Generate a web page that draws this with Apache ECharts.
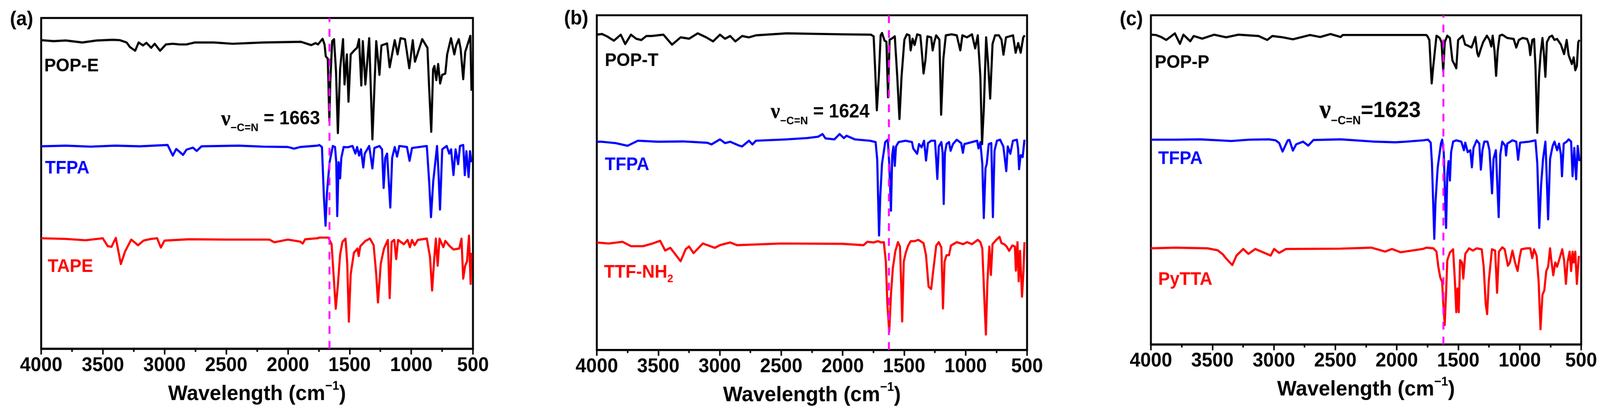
<!DOCTYPE html>
<html>
<head>
<meta charset="utf-8">
<title>FT-IR spectra</title>
<script src="https://cdn.jsdelivr.net/npm/echarts@6/dist/echarts.min.js"></script>
<style>
  html, body { margin: 0; padding: 0; background: #fff; overflow: hidden; }
  #chart { width: 4199px; height: 1057px; transform-origin: 0 0; }
</style>
</head>
<body>
<div id="chart"></div>
<script>
// spectra: [wavenumber (cm-1), offset transmittance (0 = frame bottom, 100 = frame top)]
var popE = [[4000,93.3],[3900,93.0],[3800,93.2],[3667,92.6],[3550,93.2],[3420,93.4],[3363,93.3],[3307,92.6],[3280,91.2],[3238,90.1],[3210,92.6],[3174,91.7],[3147,92.5],[3108,91.0],[3080,92.2],[3036,90.1],[2989,92.0],[2933,92.2],[2878,92.0],[2822,92.0],[2753,92.6],[2600,92.6],[2448,92.2],[2200,92.6],[1894,92.8],[1811,91.8],[1776,92.4],[1756,92.0],[1719,93.7],[1703,92.0],[1693,88.4],[1677,87.7],[1672,81.2],[1664,68.8],[1656,81.2],[1641,93.0],[1626,93.6],[1610,83.8],[1595,65.2],[1577,84.5],[1553,93.6],[1541,79.9],[1522,89.0],[1509,74.7],[1491,89.0],[1460,90.3],[1439,91.0],[1423,93.6],[1405,79.6],[1393,93.0],[1372,79.9],[1341,93.9],[1315,63.3],[1284,93.0],[1258,82.8],[1242,91.7],[1196,92.3],[1175,85.1],[1134,93.3],[1111,89.0],[1087,93.9],[1051,93.6],[1016,84.8],[988,93.3],[970,86.8],[911,93.6],[869,91.0],[854,78.0],[838,65.6],[823,84.5],[812,85.5],[797,81.2],[782,86.1],[766,80.2],[750,82.8],[724,83.2],[709,89.0],[678,93.9],[651,89.0],[636,91.7],[615,93.6],[600,90.7],[579,81.5],[563,89.7],[521,94.6],[512,78.0]];
var tfpaA = [[4000,61.2],[3800,61.4],[3600,61.1],[3400,61.4],[3200,61.2],[2975,61.6],[2933,58.4],[2905,60.4],[2880,59.6],[2850,58.6],[2822,60.2],[2770,60.8],[2739,59.8],[2700,61.2],[2400,61.4],[2200,61.1],[2000,61.0],[1950,60.5],[1900,61.0],[1760,61.4],[1745,61.6],[1724,61.0],[1709,46.6],[1695,37.2],[1683,47.3],[1662,56.4],[1636,61.3],[1618,61.0],[1608,56.4],[1600,40.1],[1589,56.4],[1577,51.5],[1567,57.7],[1548,61.0],[1517,60.9],[1476,61.3],[1453,59.0],[1439,61.0],[1423,58.4],[1408,60.3],[1389,54.8],[1377,59.0],[1341,61.3],[1315,54.5],[1299,60.7],[1258,61.3],[1237,60.3],[1224,48.6],[1211,57.7],[1196,59.0],[1170,42.7],[1155,57.7],[1134,61.0],[1115,58.1],[1097,61.3],[1035,61.0],[1014,56.8],[994,60.7],[874,61.3],[855,50.6],[840,39.8],[822,50.6],[791,61.3],[780,53.8],[767,42.1],[749,60.3],[713,61.3],[692,59.0],[677,60.3],[658,52.5],[641,60.3],[620,55.8],[605,61.3],[579,61.6],[566,52.5],[553,59.7],[535,51.9],[524,59.7],[512,56.4]];
var tape = [[4000,33.4],[3800,33.2],[3640,32.8],[3501,33.4],[3460,31.0],[3430,30.8],[3395,33.5],[3354,25.6],[3320,29.4],[3270,33.0],[3215,31.3],[3170,32.7],[3110,33.2],[3060,33.4],[3030,30.6],[3000,32.7],[2800,33.1],[2500,33.0],[2150,33.0],[2110,32.2],[2000,33.0],[1900,32.4],[1880,31.8],[1860,33.1],[1760,33.4],[1745,33.6],[1672,33.6],[1646,31.6],[1630,22.5],[1612,12.1],[1595,19.2],[1577,28.4],[1558,32.3],[1533,33.3],[1519,25.8],[1506,8.2],[1491,22.5],[1465,29.0],[1436,30.3],[1426,28.0],[1413,31.0],[1372,32.6],[1335,33.3],[1305,31.3],[1284,22.5],[1270,14.0],[1247,25.8],[1221,30.3],[1190,32.9],[1175,15.3],[1159,32.3],[1138,32.9],[1122,27.1],[1107,32.9],[1060,31.6],[1030,32.9],[1011,30.7],[994,32.9],[973,31.3],[947,32.9],[874,33.3],[848,27.7],[831,17.6],[814,27.1],[801,33.3],[786,25.1],[771,33.3],[740,30.7],[724,32.6],[688,31.0],[657,30.0],[611,30.3],[593,33.3],[579,21.2],[563,25.1],[548,26.4],[532,34.2],[519,19.6],[512,29.0]];

var popT = [[4000,94.2],[3958,94.4],[3917,93.7],[3861,92.4],[3805,94.2],[3769,91.4],[3722,94.2],[3680,93.0],[3638,92.6],[3597,93.8],[3555,93.8],[3458,94.2],[3388,91.2],[3318,93.4],[3249,93.0],[3179,94.6],[3110,93.4],[3054,92.2],[2998,94.2],[2957,93.0],[2915,93.8],[2873,92.2],[2818,93.8],[2762,93.4],[2706,94.0],[2456,94.6],[2000,94.3],[1770,94.2],[1748,93.7],[1737,84.9],[1722,71.6],[1706,81.7],[1691,94.0],[1680,94.7],[1659,92.4],[1644,92.1],[1631,75.5],[1618,92.7],[1602,93.0],[1576,93.7],[1556,81.7],[1538,69.0],[1521,81.7],[1498,92.7],[1478,94.3],[1457,94.0],[1447,89.5],[1431,93.0],[1415,91.1],[1394,94.3],[1368,94.0],[1354,88.2],[1342,82.6],[1327,86.5],[1311,93.7],[1280,93.4],[1268,89.5],[1254,92.1],[1239,94.0],[1213,92.7],[1199,70.3],[1181,86.9],[1161,94.0],[1114,94.3],[1072,94.0],[1043,89.5],[1026,94.0],[989,93.4],[948,94.3],[922,90.1],[901,94.0],[880,81.7],[866,61.5],[852,71.9],[833,93.4],[817,85.6],[800,75.1],[781,91.4],[760,94.0],[729,94.0],[708,92.7],[692,88.2],[671,93.4],[614,94.0],[593,88.8],[572,91.7],[552,88.8],[531,93.4],[519,94.0]];
var tfpaB = [[4000,62.2],[3958,62.2],[3847,61.8],[3750,61.0],[3666,62.5],[3500,62.2],[3300,62.3],[3100,61.9],[3068,61.4],[2998,62.9],[2957,61.8],[2915,62.2],[2845,61.1],[2818,60.8],[2762,62.5],[2734,61.4],[2706,62.5],[2456,62.9],[2289,63.3],[2200,63.7],[2164,64.5],[2140,63.2],[2067,62.9],[2025,64.5],[1990,63.3],[1969,64.0],[1900,62.9],[1779,62.5],[1732,62.1],[1719,56.9],[1712,45.9],[1704,34.2],[1694,45.9],[1680,55.6],[1654,62.1],[1633,62.8],[1621,55.6],[1607,41.6],[1597,58.2],[1587,60.8],[1576,55.0],[1566,60.8],[1545,62.1],[1488,62.5],[1436,62.1],[1426,60.2],[1394,58.6],[1379,61.5],[1358,60.5],[1338,62.5],[1322,56.6],[1306,61.8],[1280,62.5],[1249,62.5],[1239,56.9],[1230,51.1],[1218,60.8],[1197,62.1],[1187,58.9],[1178,43.6],[1168,58.9],[1155,61.5],[1135,62.1],[1122,59.5],[1103,61.5],[1072,62.8],[1036,61.8],[1022,58.9],[1010,61.5],[906,62.5],[895,60.2],[880,62.1],[864,55.6],[852,39.4],[838,54.3],[828,55.6],[812,61.5],[791,61.8],[778,39.7],[765,59.5],[745,62.5],[719,62.8],[693,60.8],[669,53.4],[657,60.8],[636,58.6],[615,62.5],[583,62.8],[573,60.2],[565,54.0],[552,58.2],[536,57.6],[521,62.8]];
var ttfNH2 = [[4000,32.1],[3903,31.8],[3791,32.3],[3722,31.0],[3624,31.0],[3555,31.7],[3485,32.6],[3444,29.7],[3402,30.5],[3318,26.5],[3277,30.1],[3249,30.9],[3213,28.9],[3138,31.8],[3040,30.5],[2998,31.3],[2915,32.1],[2859,31.3],[2500,31.8],[2000,31.7],[1830,31.3],[1800,32.3],[1748,32.1],[1712,32.5],[1686,32.1],[1665,32.2],[1649,26.4],[1636,13.3],[1621,5.5],[1607,16.6],[1592,24.4],[1571,29.6],[1550,32.2],[1534,30.9],[1524,19.8],[1516,8.5],[1503,26.4],[1487,29.0],[1467,31.2],[1446,32.5],[1415,32.5],[1384,32.9],[1342,31.9],[1322,28.3],[1301,18.9],[1280,18.2],[1265,23.1],[1239,31.2],[1218,32.2],[1197,30.6],[1184,12.4],[1171,26.4],[1155,28.3],[1135,28.3],[1119,31.2],[1072,32.2],[1020,31.6],[989,32.2],[948,31.6],[901,32.9],[880,32.2],[864,30.3],[849,16.6],[835,4.6],[823,19.8],[807,30.9],[794,22.4],[781,31.6],[750,32.9],[724,33.8],[708,31.9],[687,31.6],[666,30.9],[646,29.6],[620,31.2],[599,30.9],[591,23.7],[578,32.2],[568,20.5],[557,29.6],[541,15.9],[529,23.7],[521,32.2]];

var popP = [[4000,94.1],[3958,94.0],[3917,93.4],[3875,92.5],[3805,94.5],[3764,91.3],[3736,94.1],[3680,92.1],[3652,93.7],[3583,92.9],[3485,94.1],[3388,93.3],[3290,94.1],[3124,93.7],[3054,92.5],[3012,93.7],[2929,93.3],[2845,92.7],[2706,94.0],[2623,93.4],[2539,94.3],[2456,93.4],[2440,94.0],[1760,94.0],[1750,93.6],[1735,92.5],[1724,84.6],[1716,79.3],[1703,84.6],[1677,93.8],[1651,93.1],[1636,91.8],[1622,83.0],[1610,91.8],[1589,93.8],[1568,93.1],[1547,86.2],[1532,85.2],[1516,83.9],[1501,92.5],[1464,93.8],[1444,91.1],[1423,90.8],[1392,90.2],[1376,91.8],[1361,93.4],[1345,88.5],[1335,87.5],[1319,89.5],[1298,91.8],[1267,93.8],[1246,92.5],[1231,90.5],[1220,93.8],[1205,89.2],[1192,81.6],[1179,89.2],[1163,93.8],[1142,94.1],[1101,93.1],[1049,92.8],[1028,90.2],[1007,92.5],[976,93.1],[940,92.8],[924,91.1],[914,87.9],[898,92.5],[883,92.8],[872,84.6],[857,64.3],[843,81.3],[831,87.9],[815,93.1],[805,89.2],[791,81.3],[779,91.8],[758,93.4],[737,93.8],[717,92.5],[696,92.8],[665,91.1],[639,88.2],[618,92.5],[602,87.9],[576,85.2],[561,87.2],[548,83.3],[535,84.6],[524,91.8],[514,92.5]];
var tfpaC = [[4000,62.2],[3800,62.2],[3600,62.3],[3346,61.8],[3200,62.2],[3040,62.3],[2985,62.0],[2957,61.2],[2929,58.6],[2887,62.0],[2873,62.1],[2845,58.9],[2818,60.8],[2762,61.6],[2720,60.4],[2678,62.1],[2456,62.3],[2178,61.6],[2011,61.4],[1927,61.6],[1788,62.0],[1745,62.2],[1724,61.3],[1714,55.1],[1703,42.0],[1695,32.1],[1685,43.3],[1667,53.8],[1641,61.0],[1631,62.2],[1618,58.4],[1610,48.5],[1599,35.4],[1589,51.8],[1579,55.7],[1568,49.8],[1558,58.4],[1542,61.6],[1516,62.0],[1475,61.6],[1454,59.0],[1443,61.3],[1423,58.4],[1402,59.0],[1389,53.8],[1376,59.7],[1350,62.0],[1329,61.0],[1316,53.1],[1303,59.0],[1288,61.6],[1262,61.6],[1246,59.0],[1225,45.9],[1213,56.4],[1194,59.0],[1171,38.7],[1158,57.7],[1142,61.6],[1117,60.3],[1111,57.4],[1101,61.0],[1059,62.0],[1028,61.6],[1013,56.1],[997,61.3],[924,61.6],[872,62.0],[857,55.1],[841,35.4],[826,48.5],[810,56.4],[791,61.6],[781,51.8],[769,38.0],[753,56.4],[732,60.3],[717,61.6],[696,59.0],[680,61.0],[665,57.7],[656,51.1],[642,61.0],[618,61.6],[602,62.3],[582,61.6],[570,51.1],[556,59.7],[541,50.2],[528,60.3],[514,55.7]];
var pyTTA = [[4000,29.2],[3800,29.4],[3541,29.2],[3457,28.6],[3416,27.4],[3388,26.1],[3338,24.1],[3304,27.0],[3249,29.0],[3207,27.5],[3151,29.0],[3026,27.0],[2998,29.0],[2957,27.8],[2901,29.0],[2456,29.1],[2206,29.4],[2094,28.2],[2039,29.0],[1970,28.0],[1788,29.0],[1760,29.4],[1703,29.2],[1677,28.2],[1662,23.6],[1646,20.3],[1631,19.0],[1621,11.8],[1610,5.9],[1599,15.7],[1589,25.6],[1568,27.9],[1542,28.9],[1527,19.0],[1516,9.8],[1506,17.0],[1496,9.8],[1485,25.6],[1469,24.9],[1459,20.0],[1443,27.5],[1412,29.2],[1381,28.5],[1350,29.2],[1309,28.9],[1293,23.6],[1277,12.5],[1265,9.2],[1252,19.0],[1226,28.9],[1200,28.5],[1184,15.7],[1169,28.2],[1142,29.5],[1122,28.9],[1096,23.9],[1080,24.9],[1059,28.5],[1038,24.9],[1017,22.3],[1002,26.2],[987,28.9],[945,29.2],[914,29.2],[898,26.2],[883,28.9],[862,26.9],[846,19.0],[831,4.6],[815,15.1],[800,16.4],[784,22.3],[769,23.6],[753,29.2],[743,25.6],[727,21.0],[711,24.9],[696,23.6],[675,26.2],[654,28.9],[639,25.6],[624,18.4],[611,24.9],[594,28.2],[582,22.3],[570,28.2],[561,24.9],[548,28.2],[535,18.4],[519,26.9]];

// imine band marked in each panel (cm-1)
var cnPeaks = [1663, 1624, 1623];
var sampleNames = [['POP-E', 'TFPA', 'TAPE'], ['POP-T', 'TFPA', 'TTF-NH2'], ['POP-P', 'TFPA', 'PyTTA']];

var FONT = '"Liberation Sans", Arial, sans-serif';
var SERIF = '"Liberation Serif", "DejaVu Serif", serif';
var COLORS = ['#000000', '#0000ff', '#ff0000'];
var MAGENTA = '#ff00ff';

var panels = [
  { box: { left: 108, top: 46, width: 1133, height: 846 }, data: [popE, tfpaA, tape] },
  { box: { left: 1566, top: 39, width: 1129, height: 856 }, data: [popT, tfpaB, ttfNH2] },
  { box: { left: 3020, top: 39, width: 1129, height: 842 }, data: [popP, tfpaC, pyTTA] }
];

var grid = [], xAxis = [], yAxis = [], series = [];

panels.forEach(function (p, i) {
  grid.push({
    left: p.box.left, top: p.box.top, width: p.box.width, height: p.box.height,
    show: true, borderColor: '#000', borderWidth: 5, backgroundColor: 'transparent'
  });
  xAxis.push({
    gridIndex: i, type: 'value', min: 500, max: 4000, interval: 500, inverse: true,
    axisLine: { show: true, onZero: false, lineStyle: { color: '#000', width: 5 } },
    axisTick: { show: true, inside: false, length: 15, lineStyle: { color: '#000', width: 4 } },
    minorTick: { show: true, splitNumber: 2, length: 8, lineStyle: { color: '#000', width: 4 } },
    splitLine: { show: false },
    axisLabel: {
      show: true, margin: 18, showMinLabel: true, showMaxLabel: true,
      color: '#000', fontSize: 50, fontWeight: 'bold', fontFamily: FONT,
      formatter: function (v) { return String(v); }
    },
    name: '{t|Wavelength (cm}{s|\u22121}{t|)}',
    nameLocation: 'middle', nameGap: 86,
    nameTextStyle: {
      rich: {
        t: { fontSize: 54, fontWeight: 'bold', fontFamily: FONT, color: '#000', lineHeight: 60 },
        s: { fontSize: 32, fontWeight: 'bold', fontFamily: FONT, color: '#000', lineHeight: 34, padding: [0, 0, 40, 0] }
      }
    }
  });
  yAxis.push({ gridIndex: i, type: 'value', min: 0, max: 100, show: false });

  p.data.forEach(function (d, k) {
    var s = {
      type: 'line', name: sampleNames[i][k], xAxisIndex: i, yAxisIndex: i, data: d,
      symbol: 'none', showSymbol: false, silent: true, z: 2 + k,
      lineStyle: { color: COLORS[k], width: 5.5, join: 'round' }, itemStyle: { color: COLORS[k] }
    };
    if (k === 2) {
      s.markLine = {
        silent: true, symbol: ['none', 'none'], label: { show: false }, animation: false,
        lineStyle: { color: MAGENTA, width: 5, type: [20, 18] },
        data: [{ xAxis: cnPeaks[i] }]
      };
    }
    series.push(s);
  });
});

// text in the plot: panel letters, sample names, imine band notes
var nameStyle = function (color) {
  return { fontSize: 46, fontWeight: 'bold', fontFamily: FONT, fill: color };
};
var txt = function (x, y, text, rich, base) {
  var st = { text: text, align: 'left', verticalAlign: 'middle' };
  if (rich) st.rich = rich;
  for (var key in base) st[key] = base[key];
  return { type: 'text', x: x, y: y, silent: true, z: 100, style: st };
};
var noteRich = function (nuSize, subSize, eqSize, subDrop) {
  return {
    nu: { fontSize: nuSize, fontWeight: 'bold', fontFamily: SERIF, fill: '#000', lineHeight: nuSize + 6 },
    sub: { fontSize: subSize, fontWeight: 'bold', fontFamily: FONT, fill: '#000', lineHeight: subSize + 2, padding: [subDrop, 0, 0, 0] },
    eq: { fontSize: eqSize, fontWeight: 'bold', fontFamily: FONT, fill: '#000', lineHeight: eqSize + 6 }
  };
};
var nh2Rich = {
  a: { fontSize: 46, fontWeight: 'bold', fontFamily: FONT, fill: COLORS[2], lineHeight: 50 },
  b: { fontSize: 28, fontWeight: 'bold', fontFamily: FONT, fill: COLORS[2], lineHeight: 30, padding: [34, 0, 0, 0] }
};
var panelStyle = { fontSize: 50, fontWeight: 'bold', fontFamily: FONT, fill: '#000' };

var graphic = [
  txt(26, 51, '(a)', null, panelStyle),
  txt(1480, 49, '(b)', null, panelStyle),
  txt(2938, 51, '(c)', null, panelStyle),

  txt(116, 170, sampleNames[0][0], null, nameStyle(COLORS[0])),
  txt(118, 431, sampleNames[0][1], null, nameStyle(COLORS[1])),
  txt(125, 683, sampleNames[0][2], null, nameStyle(COLORS[2])),

  txt(1587, 156, sampleNames[1][0], null, nameStyle(COLORS[0])),
  txt(1587, 422, sampleNames[1][1], null, nameStyle(COLORS[1])),
  txt(1585, 697, '{a|TTF-NH}{b|2}', nh2Rich, {}),

  txt(3030, 161, sampleNames[2][0], null, nameStyle(COLORS[0])),
  txt(3039, 407, sampleNames[2][1], null, nameStyle(COLORS[1])),
  txt(3039, 716, sampleNames[2][2], null, nameStyle(COLORS[2])),

  txt(580, 305, '{nu|\u03bd}{sub|\u2212C=N}{eq| = ' + cnPeaks[0] + '}', noteRich(56, 28, 48, 46), {}),
  txt(2022, 287, '{nu|\u03bd}{sub|\u2212C=N}{eq| = ' + cnPeaks[1] + '}', noteRich(56, 28, 48, 46), {}),
  txt(3462, 284, '{nu|\u03bd}{sub|\u2212C=N}{eq|=' + cnPeaks[2] + '}', noteRich(68, 30, 56, 52), {})
];

// fit the 4199x1057 drawing into whatever CSS viewport the browser really gives
var el = document.getElementById('chart');
var fx = (window.innerWidth || 4199) / 4199;
var fy = (window.innerHeight || 1057) / 1057;
if (Math.abs(fx - 1) > 0.001 || Math.abs(fy - 1) > 0.001) {
  el.style.transform = 'scale(' + fx + ',' + fy + ')';
}

var chart = echarts.init(el, null, {
  renderer: 'canvas', width: 4199, height: 1057,
  devicePixelRatio: (window.devicePixelRatio || 1) * Math.max(1, 1 / Math.min(fx, fy))
});
chart.setOption({
  animation: false,
  backgroundColor: '#ffffff',
  grid: grid,
  xAxis: xAxis,
  yAxis: yAxis,
  series: series,
  graphic: graphic
});
</script>
</body>
</html>
